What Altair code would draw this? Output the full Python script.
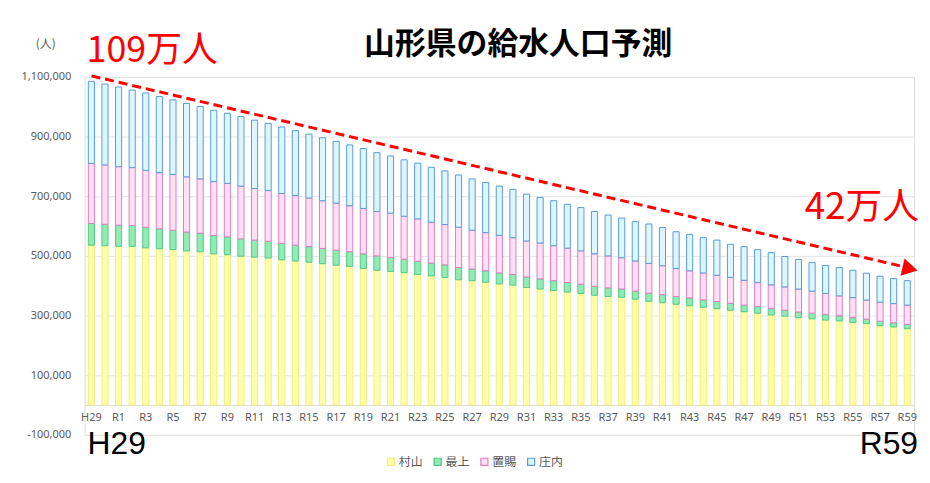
import altair as alt
import pandas as pd

years = ["H29", "H30"] + ["R%d" % i for i in range(1, 60)]
label_years = years[::2]

regions = ["村山", "最上", "置賜", "庄内"]
fills = ["#FFFFA8", "#93EBB2", "#FFE1F6", "#DDF6FF"]
strokes = ["#F0F080", "#4FC987", "#E37CC0", "#5B9BD5"]

# thousands of people
murayama = [536, 534, 532, 532, 527, 524, 521, 517, 514, 507, 504, 499, 496, 493, 487, 483, 479, 474, 469, 465, 458,
            452, 448, 444, 438, 433, 428, 420, 417, 412, 406, 402, 394, 389, 384, 379, 374, 368, 364, 361, 355,
            348, 343, 338, 333, 328, 323, 318, 313, 308, 302, 298, 293, 289, 285, 282, 277, 273, 266, 262, 256]
mogami = [73, 72, 71, 70, 69, 67, 65, 63, 62, 61, 60, 58, 57, 56, 55, 53, 52, 51, 50, 49, 49,
          48, 47, 45, 44, 43, 42, 41, 39, 38, 37, 36, 35, 34, 33, 32, 31, 30, 29, 28, 27,
          27, 27, 26, 26, 25, 24, 23, 22, 22, 21, 20, 19, 19, 18, 17, 16, 15, 15, 14, 14]
okitama = [201, 199, 196, 194, 191, 188, 187, 185, 182, 181, 179, 177, 173, 170, 167, 166, 163, 160, 158, 154, 152,
           149, 148, 144, 142, 137, 135, 135, 130, 128, 126, 123, 121, 120, 117, 115, 112, 109, 107, 105, 101,
           100, 97, 94, 91, 90, 88, 87, 83, 81, 80, 78, 77, 74, 71, 67, 67, 64, 64, 64, 65]
shonai = [275, 271, 267, 260, 259, 255, 250, 246, 243, 239, 235, 233, 229, 225, 223, 218, 214, 211, 207, 204, 201,
          197, 192, 189, 187, 184, 180, 175, 172, 168, 165, 162, 157, 153, 151, 147, 145, 142, 137, 133, 132,
          132, 128, 123, 122, 118, 118, 111, 113, 110, 108, 102, 99, 96, 94, 95, 92, 90, 87, 84, 82]

series = [murayama, mogami, okitama, shonai]
rows = []
for k, (name, vals) in enumerate(zip(regions, series)):
    for yr, v in zip(years, vals):
        rows.append({"年度": yr, "地域": name, "人口": v * 1000, "順": k})
df = pd.DataFrame(rows)

y_ticks = [-100000, 100000, 300000, 500000, 700000, 900000, 1100000]

FONT = "Noto Sans CJK JP"

legend = alt.Legend(
    title=None, orient="none", direction="horizontal", legendX=302, legendY=381,
    symbolType="square", symbolSize=50, symbolStrokeWidth=1.2,
    labelFontSize=12, labelColor="#595959", labelFont=FONT,
    columnPadding=8, labelOffset=2,
)

bars = alt.Chart(df).mark_bar(strokeWidth=1).encode(
    x=alt.X("年度:N", sort=years,
            scale=alt.Scale(paddingInner=0.55, paddingOuter=0.275),
            axis=alt.Axis(title=None, values=label_years, labelAngle=0, ticks=False,
                          labelOverlap=False, labelFontSize=11, labelColor="#595959",
                          labelFont="Noto Sans", labelPadding=6, domainColor="#D9D9D9",
                          offset=-30, grid=False)),
    y=alt.Y("人口:Q", stack="zero",
            scale=alt.Scale(domain=[-100000, 1100000], nice=False, zero=False),
            axis=alt.Axis(title=None, values=y_ticks, ticks=False, domain=False,
                          labelExpr="(datum.value < 0 ? '-' : '') + format(abs(datum.value), ',.0f')",
                          labelFontSize=11, labelColor="#595959", labelFont="Noto Sans",
                          labelPadding=14, gridColor="#E3E3E3", gridWidth=1)),
    color=alt.Color("地域:N", scale=alt.Scale(domain=regions, range=fills), legend=legend),
    stroke=alt.Stroke("地域:N", scale=alt.Scale(domain=regions, range=strokes), legend=legend),
    order=alt.Order("順:Q", sort="ascending"),
)

ann = pd.DataFrame({"t": [0]})

def txt(text, x, y, size, color="black", weight="normal", align="left", font=FONT):
    return alt.Chart(ann).mark_text(
        text=text, fontSize=size, color=color, fontWeight=weight, align=align,
        baseline="middle", font=font,
    ).encode(x=alt.value(x), y=alt.value(y))

title = txt("山形県の給水人口予測", 436, -32, 31, weight="bold", align="center")
unit = txt("(人)", -39, -33, 12, color="#595959", align="center")
t109 = txt("109万人", 2, -26, 36, color="#FF0000")
t42 = txt("42万人", 839, 132, 37, color="#FF0000", align="right")
h29 = txt("H29", 3, 369, 32, font="Liberation Sans")
r59 = txt("R59", 838, 369, 32, align="right", font="Liberation Sans")

arrow_line = alt.Chart(ann).mark_rule(color="#FF0000", strokeWidth=3, strokeDash=[9, 5]).encode(
    x=alt.value(7), y=alt.value(-1), x2=alt.value(824), y2=alt.value(191)
)
arrow_head = alt.Chart(ann).mark_point(
    shape="triangle-right", filled=True, color="#FF0000", size=320, angle=13, opacity=1
).encode(x=alt.value(830), y=alt.value(193))

chart = alt.layer(
    bars, arrow_line, arrow_head, title, unit, t109, t42, h29, r59
).properties(
    width=834, height=360,
    autosize=alt.AutoSizeParams(type="none"),
    padding={"left": 77, "top": 68, "right": 8, "bottom": 32},
).configure_view(stroke=None).configure(background="white")

chart.save("out.html", embed_options={"renderer": "svg", "actions": False})
